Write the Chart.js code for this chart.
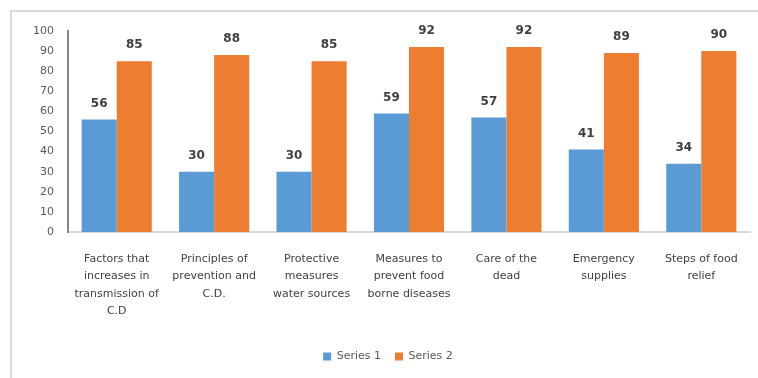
<!DOCTYPE html>
<html>
<head>
<meta charset="utf-8">
<script src="https://cdn.jsdelivr.net/npm/chart.js@4.4.1/dist/chart.umd.min.js"></script>
<style>
    html, body { margin: 0; padding: 0; background: #fff; overflow: hidden; }
    #wrap { position: relative; width: 758px; height: 378px; }
    #frame { position: absolute; left: 10px; top: 10px; width: 800px; height: 400px;
             border: 2px solid #d9d9d9; box-sizing: border-box; }
    canvas { position: absolute; left: 0; top: 0; }
</style>
</head>
<body>
<div id="wrap">
    <div id="frame"></div>
    <canvas id="chart" width="758" height="378"></canvas>
</div>
<script>
    const categories = [
        ['Factors that', 'increases in', 'transmission of', 'C.D'],
        ['Principles of', 'prevention and', 'C.D.'],
        ['Protective', 'measures', 'water sources'],
        ['Measures to', 'prevent food', 'borne diseases'],
        ['Care of the', 'dead'],
        ['Emergency', 'supplies'],
        ['Steps of food', 'relief']
    ];
    const series1 = [56, 30, 30, 59, 57, 41, 34];
    const series2 = [85, 88, 85, 92, 92, 89, 90];
    const yTicks = [0, 10, 20, 30, 40, 50, 60, 70, 80, 90, 100];

    const valueLabels = {
        id: 'valueLabels',
        afterDatasetsDraw(chart) {
            const ctx = chart.ctx;
            ctx.save();
            ctx.font = 'bold 12px "DejaVu Sans"';
            ctx.fillStyle = '#404040';
            ctx.textAlign = 'center';
            ctx.textBaseline = 'middle';
            chart.data.datasets.forEach((ds, i) => {
                chart.getDatasetMeta(i).data.forEach((bar, j) => {
                    ctx.fillText(ds.data[j], bar.x, bar.y - 16);
                });
            });
            ctx.restore();
        }
    };

    new Chart(document.getElementById('chart').getContext('2d'), {
        type: 'bar',
        data: {
            labels: categories,
            datasets: [
                { label: 'Series 1', data: series1, backgroundColor: '#5b9bd5' },
                { label: 'Series 2', data: series2, backgroundColor: '#ed7d31' }
            ]
        },
        options: {
            responsive: false,
            animation: false,
            layout: { padding: { left: 26, right: 8, top: 31, bottom: 6 } },
            datasets: { bar: { categoryPercentage: 0.72, barPercentage: 1 } },
            plugins: {
                legend: {
                    position: 'bottom',
                    labels: {
                        boxWidth: 8,
                        boxHeight: 8,
                        padding: 14,
                        color: '#595959',
                        font: { family: 'DejaVu Sans', size: 11 }
                    }
                },
                tooltip: { enabled: false }
            },
            scales: {
                x: {
                    grid: { display: false, drawTicks: false },
                    border: { color: '#d9d9d9', width: 2 },
                    ticks: {
                        color: '#404040',
                        maxRotation: 0,
                        autoSkip: false,
                        padding: 18,
                        font: { family: 'DejaVu Sans', size: 11, lineHeight: 1.6 }
                    },
                    afterFit(scale) { scale.height = 105; }
                },
                y: {
                    min: 0,
                    max: 100,
                    afterBuildTicks(scale) { scale.ticks = yTicks.map(v => ({ value: v })); },
                    grid: { display: false, drawTicks: false },
                    border: { color: '#868686', width: 2 },
                    ticks: {
                        color: '#595959',
                        padding: 14,
                        font: { family: 'DejaVu Sans', size: 11 }
                    },
                    afterFit(scale) { scale.width = 42; }
                }
            }
        },
        plugins: [valueLabels]
    });
</script>
</body>
</html>
